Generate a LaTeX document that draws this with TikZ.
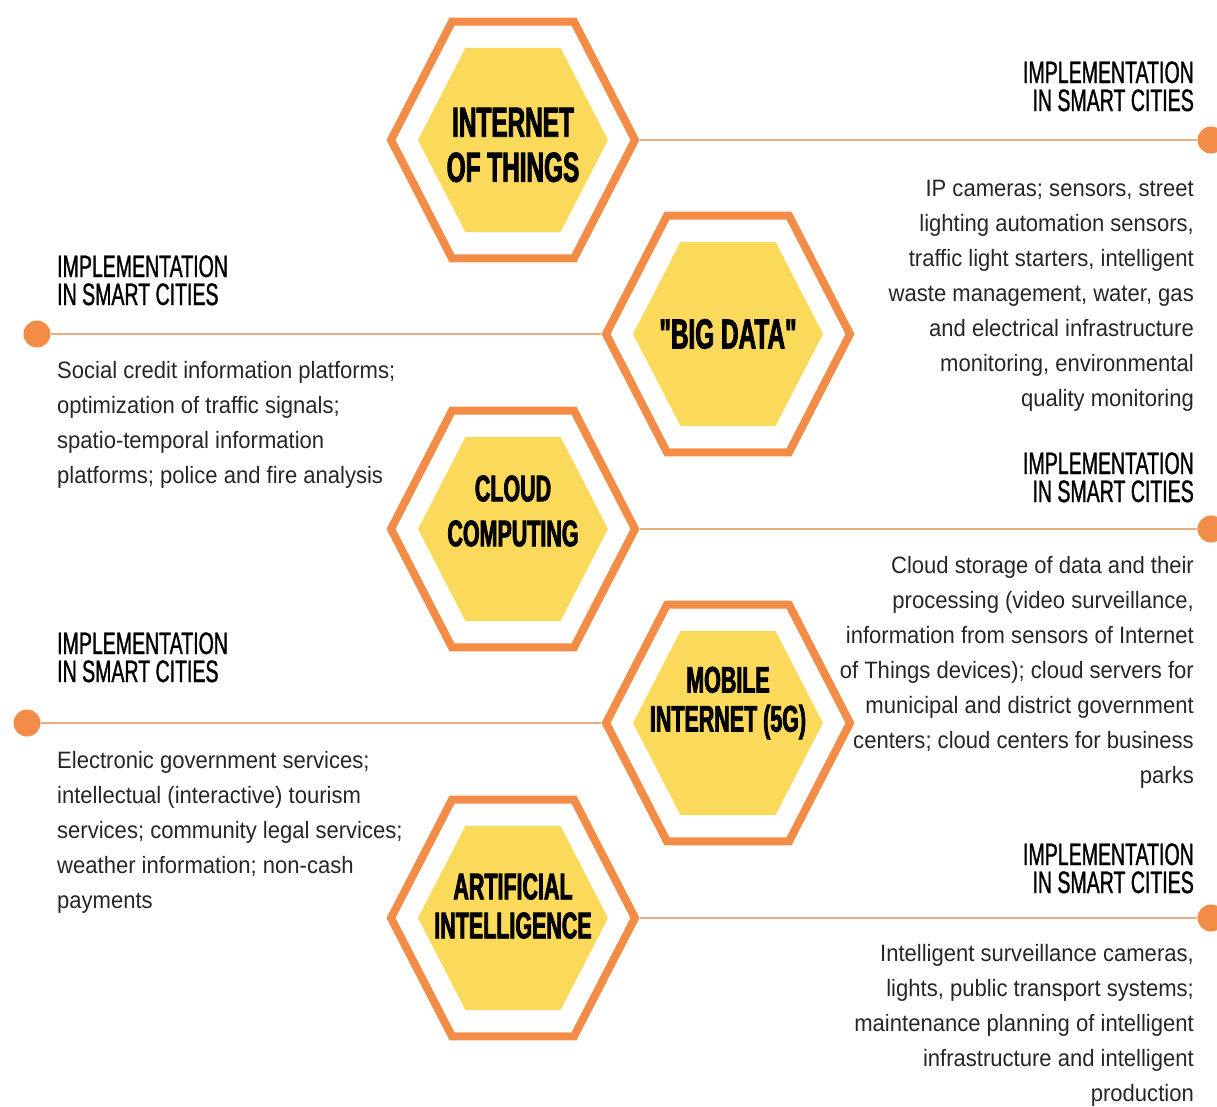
\documentclass[tikz,border=0pt]{standalone}
\usepackage{fontspec}
\setmainfont{Liberation Sans}
\newfontfamily\bodyfont[FakeStretch=0.93]{Liberation Sans}
\newfontfamily\headfont[FakeStretch=0.63,FakeBold=1]{Liberation Sans}
\newfontfamily\titlefont[FakeStretch=0.58,FakeBold=2]{Liberation Sans}
\usetikzlibrary{shapes.geometric}

\definecolor{hexorange}{HTML}{F28C47}
\definecolor{hexyellow}{HTML}{FBDA5B}
\definecolor{linktan}{HTML}{EBAE80}

\begin{document}
\begin{tikzpicture}[x=1pt, y=-1pt,
    hexring/.style={regular polygon, regular polygon sides=6, minimum size=244pt, inner sep=0pt, draw=hexorange, line width=8pt, yscale=1.12},
    hexcore/.style={regular polygon, regular polygon sides=6, minimum size=190pt, inner sep=0pt, fill=hexyellow, yscale=1.12},
    hextitle/.style={align=center, inner sep=0pt, font=\titlefont\bfseries\fontsize{37}{39}\selectfont},
    implhead/.style={inner sep=0pt, font=\headfont\fontsize{31}{28}\selectfont},
    infotext/.style={inner sep=0pt, text=black!85, font=\bodyfont\fontsize{23.7}{35}\selectfont},
    enddot/.style={circle, fill=hexorange, minimum size=27pt, inner sep=0pt},
    connector/.style={draw=linktan, line width=2.5pt}]
    \useasboundingbox (0,0) rectangle (1217,1106);

    % Hexagons
    \node[hexring] (iotring) at (513,140) {};
    \node[hexcore] (iotcore) at (513,140) {};
    \node[hexring] (dataring) at (728,334) {};
    \node[hexcore] (datacore) at (728,334) {};
    \node[hexring] (cloudring) at (513,529) {};
    \node[hexcore] (cloudcore) at (513,529) {};
    \node[hexring] (mobilering) at (728,723) {};
    \node[hexcore] (mobilecore) at (728,723) {};
    \node[hexring] (airing) at (513,918) {};
    \node[hexcore] (aicore) at (513,918) {};

    % Titles
    \node[hextitle, font=\titlefont\bfseries\fontsize{42}{45}\selectfont] (iottitle) at (513,145) {INTERNET\\OF THINGS};
    \node[hextitle, font=\titlefont\bfseries\fontsize{42}{45}\selectfont] (datatitle) at (728,334) {"BIG DATA"};
    \node[hextitle, font=\titlefont\bfseries\fontsize{37}{45}\selectfont] (cloudtitle) at (513,511) {CLOUD\\COMPUTING};
    \node[hextitle] (mobiletitle) at (728,703) {MOBILE\\INTERNET (5G)};
    \node[hextitle] (aititle) at (513,906) {ARTIFICIAL\\INTELLIGENCE};

    % End dots
    \node[enddot] (iotdot) at (1211,140) {};
    \node[enddot] (datadot) at (37,334) {};
    \node[enddot] (clouddot) at (1211,529) {};
    \node[enddot] (mobiledot) at (27,723) {};
    \node[enddot] (aidot) at (1211,918) {};

    % Edges
    \draw[connector] (iotring.east) -- (iotdot);
    \draw[connector] (datadot) -- (dataring.west);
    \draw[connector] (cloudring.east) -- (clouddot);
    \draw[connector] (mobiledot) -- (mobilering.west);
    \draw[connector] (airing.east) -- (aidot);

    % Right column texts (base = last line)
    \node[implhead, align=right, anchor=base east] (iothead) at (1194,111) {IMPLEMENTATION\\IN SMART CITIES};
    \node[infotext, align=right, anchor=base east] (iotinfo) at (1194,406) {IP cameras; sensors, street\\lighting automation sensors,\\traffic light starters, intelligent\\waste management, water, gas\\and electrical infrastructure\\monitoring, environmental\\quality monitoring};
    \node[implhead, align=right, anchor=base east] (cloudhead) at (1194,502) {IMPLEMENTATION\\IN SMART CITIES};
    \node[infotext, align=right, anchor=base east] (cloudinfo) at (1194,783) {Cloud storage of data and their\\processing (video surveillance,\\information from sensors of Internet\\of Things devices); cloud servers for\\municipal and district government\\centers; cloud centers for business\\parks};
    \node[implhead, align=right, anchor=base east] (aihead) at (1194,893) {IMPLEMENTATION\\IN SMART CITIES};
    \node[infotext, align=right, anchor=base east] (aiinfo) at (1194,1101) {Intelligent surveillance cameras,\\lights, public transport systems;\\maintenance planning of intelligent\\infrastructure and intelligent\\production};

    % Left column texts
    \node[implhead, align=left, anchor=base west] (datahead) at (57,305) {IMPLEMENTATION\\IN SMART CITIES};
    \node[infotext, align=left, anchor=base west] (datainfo) at (57,483) {Social credit information platforms;\\optimization of traffic signals;\\spatio-temporal information\\platforms; police and fire analysis};
    \node[implhead, align=left, anchor=base west] (mobilehead) at (57,682) {IMPLEMENTATION\\IN SMART CITIES};
    \node[infotext, align=left, anchor=base west] (mobileinfo) at (57,908) {Electronic government services;\\intellectual (interactive) tourism\\services; community legal services;\\weather information; non-cash\\payments};
\end{tikzpicture}
\end{document}
